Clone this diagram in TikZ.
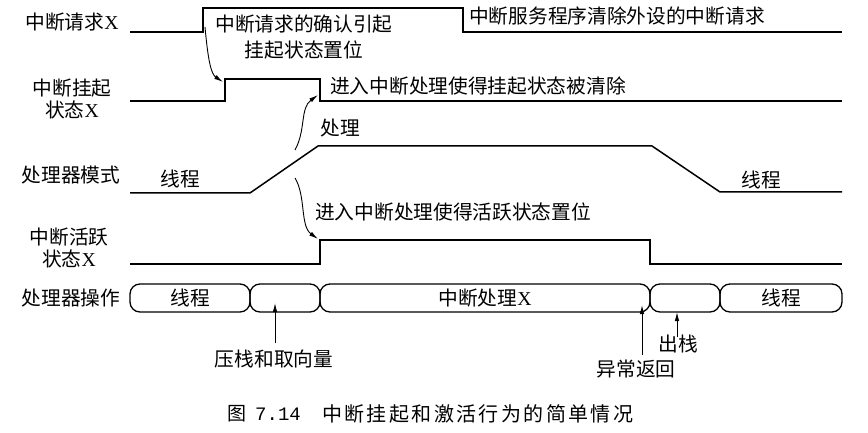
\documentclass[tikz,border=0pt]{standalone}
\usepackage{fontspec}
\setmainfont{Noto Sans CJK SC}
\newfontfamily\lat{Liberation Serif}
\newfontfamily\digits{Liberation Mono}
\newfontfamily\capfont[LetterSpace=12]{Noto Sans CJK SC}
\usetikzlibrary{arrows.meta}
\begin{document}
\begin{tikzpicture}[x=1pt,y=-1pt,
  lbl/.style={inner sep=0pt, align=center, font=\fontsize{19.7}{22}\selectfont},
  sig/.style={line width=1.5pt, line join=miter},
  opbox/.style={draw, line width=1.3pt, rounded corners=10pt, minimum height=28pt, inner sep=0pt, font=\fontsize{19.7}{22}\selectfont},
  arr/.style={line width=0.9pt, -{Latex[length=9pt,width=4.5pt]}},
]
\useasboundingbox (0,0) rectangle (868,433);
% signal names
\node[lbl] (nreq) at (72,22) {中断请求{\lat X}};
\node[lbl] (npend) at (72,99) {中断挂起\\状态{\lat X}};
\node[lbl] (nmode) at (71,175) {处理器模式};
\node[lbl] (nact) at (69,248) {中断活跃\\状态{\lat X}};
\node[lbl] (nop) at (71,298) {处理器操作};
% waveforms
\draw[sig] (130,32) -- (203,32) -- (203,8) -- (463,8) -- (463,32) -- (842,32);
\draw[sig] (130,101) -- (225,101) -- (225,79) -- (320,79) -- (320,101) -- (842,101);
\draw[sig] (130,193) -- (250,193) -- (318,146) -- (652,146) -- (720,192) -- (842,192);
\draw[sig] (130,264) -- (320,264) -- (320,240) -- (650,240) -- (650,264) -- (842,264);
% annotations
\node[lbl, font=\fontsize{19.7}{26}\selectfont] (tack) at (304,37) {中断请求的确认引起\\挂起状态置位};
\node[lbl, anchor=west] (tclr) at (469,16) {中断服务程序清除外设的中断请求};
\node[lbl, anchor=west] (tpend) at (330,86) {进入中断处理使得挂起状态被清除};
\node[lbl] (thandle) at (340,128) {处理};
\node[lbl] (tthr1) at (180,179) {线程};
\node[lbl] (tthr2) at (761,180) {线程};
\node[lbl, anchor=west] (tact) at (315,212) {进入中断处理使得活跃状态置位};
% curved arrows
\coordinate (a1s) at (205,27); \coordinate (a1e) at (223,82);
\draw[arr] (a1s) .. controls (208,60) and (211,74) .. (a1e);
\coordinate (a2s) at (295,150); \coordinate (a2e) at (318,95);
\draw[arr] (a2s) .. controls (306,130) and (300,108) .. (a2e);
\coordinate (a3s) at (295,178); \coordinate (a3e) at (318,239);
\draw[arr] (a3s) .. controls (306,196) and (300,226) .. (a3e);
% processor operation boxes
\node[opbox, minimum width=120pt] (op1) at (190,298) {线程};
\node[opbox, minimum width=70pt] (op2) at (285,298) {};
\node[opbox, minimum width=330pt] (op3) at (485,298) {中断处理{\lat X}};
\node[opbox, minimum width=70pt] (op4) at (685,298) {};
\node[opbox, minimum width=122pt] (op5) at (781,298) {线程};
% bottom labels and arrows
\node[lbl] (tpush) at (274,359) {压栈和取向量};
\node[lbl] (tret) at (636,369) {异常返回};
\node[lbl] (tpop) at (678,344) {出栈};
\coordinate (b1s) at (275,343); \coordinate (b1e) at (275,303);
\draw[arr] (b1s) -- (b1e);
\coordinate (b2s) at (642,355); \coordinate (b2e) at (642,305);
\draw[arr] (b2s) -- (b2e);
\coordinate (b3s) at (677,337); \coordinate (b3e) at (677,312);
\draw[arr] (b3s) -- (b3e);
% caption
\node[inner sep=0pt, anchor=west, font=\fontsize{19}{20}\selectfont] (cap1) at (227,414) {图\hspace{9pt}{\digits 7.14}};
\node[inner sep=0pt, anchor=west, font=\capfont\fontsize{20}{22}\selectfont] (cap2) at (322,414) {中断挂起和激活行为的简单情况};
\end{tikzpicture}
\end{document}
